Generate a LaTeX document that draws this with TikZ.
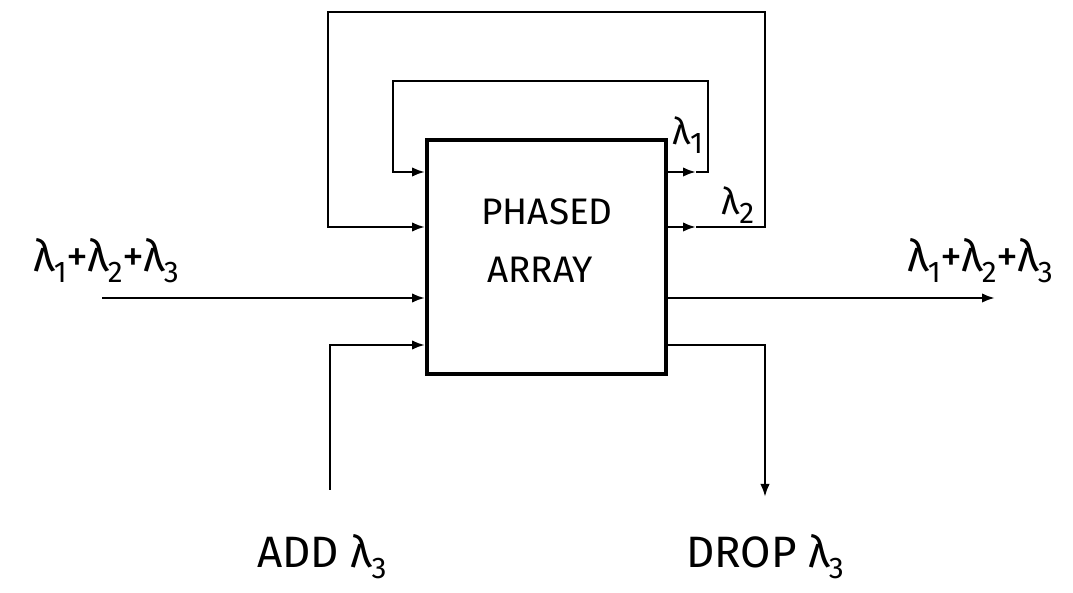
\documentclass[tikz,border=0pt]{standalone}
\usepackage{fontspec}
\setmainfont{Fira Sans}
\usetikzlibrary{arrows.meta}
\newcommand{\lam}[1]{λ\kern-0.02em\raisebox{-0.45ex}{\fontsize{17}{17}\selectfont #1}}
\tikzset{
  conn/.style = {line width=1.4pt},
  arr/.style = {conn, -{Latex[length=2.6mm,width=1.9mm]}},
  lbl/.style = {font=\fontsize{21}{24}\selectfont, anchor=base, inner sep=0pt},
  biglbl/.style = {lbl, font=\fontsize{25}{28}\selectfont},
}

\begin{document}
\begin{tikzpicture}[x=0.2mm, y=-0.2mm]
\useasboundingbox (0,0) rectangle (1073,593);
\node[draw, line width=2.2pt, minimum width=4.78cm, minimum height=4.68cm, inner sep=0pt] (box) at (546.5,257) {};
\node[lbl] (ph) at (547,225) {PHASED};
\node[lbl] (ar) at (540,283) {ARRAY};
% levels on the box sides
\coordinate (y1) at (0,172);
\coordinate (y2) at (0,227);
\coordinate (y3) at (0,298);
\coordinate (y4) at (0,345);
% free ends
\coordinate (src) at (102,298);
\coordinate (dst) at (995,298);
\coordinate (add) at (330,490);
\coordinate (drop) at (765,497);
% loop corners
\coordinate (m1) at (696,172);
\coordinate (m2) at (696,227);
\coordinate (r1) at (708,81);
\coordinate (l1) at (393,81);
\coordinate (r2) at (765,12);
\coordinate (l2) at (328,12);
\draw[arr] (src) -- (box.west |- y3);
\draw[arr] (box.east |- y3) -- (dst);
\draw[arr] (add) |- (box.west |- y4);
\draw[arr] (box.east |- y4) -| (drop);
\draw[arr] (box.east |- y1) -- (m1);
\draw[arr] (m1) -| (r1) -- (l1) |- (box.west |- y1);
\draw[arr] (box.east |- y2) -- (m2);
\draw[arr] (m2) -| (r2) -- (l2) |- (box.west |- y2);
% labels
\node[lbl] (la1) at (688,145) {\lam{1}};
\node[lbl] (la2) at (738,215) {\lam{2}};
\node[biglbl] (lin) at (106,272) {\lam{1}+\lam{2}+\lam{3}};
\node[biglbl] (lout) at (980,272) {\lam{1}+\lam{2}+\lam{3}};
\node[biglbl] (ladd) at (322,568) {ADD \lam{3}};
\node[biglbl] (ldrop) at (765,568) {DROP \lam{3}};
\end{tikzpicture}
\end{document}
